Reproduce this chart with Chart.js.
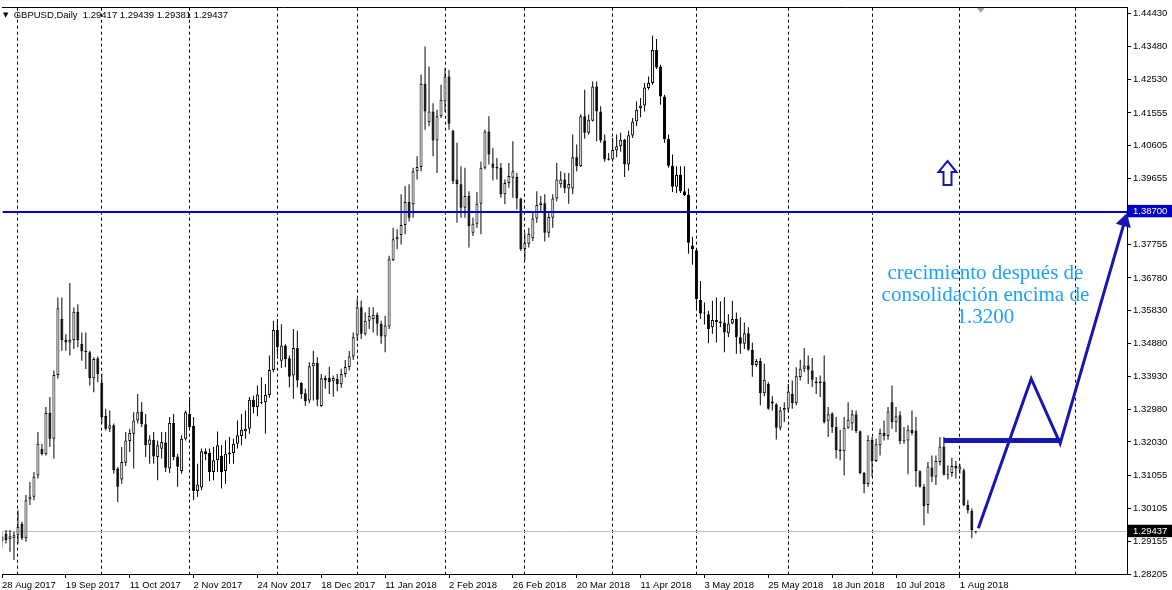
<!DOCTYPE html>
<html>
<head>
<meta charset="utf-8">
<script src="https://cdn.jsdelivr.net/npm/chart.js@4.4.1/dist/chart.umd.min.js"></script>
<style>
  html, body { margin: 0; padding: 0; background: #fff; }
  #wrap { position: relative; width: 1172px; height: 590px; }
  #head { position: absolute; left: 3px; top: 9px; font: 9.5px "Liberation Sans", Arial, sans-serif; color: #000; white-space: pre; }
  #head .tri { font: 7px "DejaVu Sans", sans-serif; vertical-align: 1px; }
</style>
</head>
<body>
<div id="wrap">
  <canvas id="chart" width="1172" height="590"></canvas>
  <div id="head"><span class="tri">▼</span>  GBPUSD,Daily  1.29417 1.29439 1.29381 1.29437</div>
</div>
<script>
// GBPUSD daily candles (one value per bar)
const opens = [
  1.2930,1.2938,1.2921,1.2924,1.2933,1.2965,1.2924,1.3036,1.3044,1.3106,
  1.3183,1.3167,1.3287,1.3212,1.3397,1.3559,1.3499,1.3490,1.3498,1.3580,
  1.3487,1.3467,1.3463,1.3387,1.3445,1.3374,1.3278,1.3241,1.3251,1.3126,
  1.3094,1.3143,1.3206,1.3227,1.3265,1.3291,1.3254,1.3195,1.3209,1.3159,
  1.3183,1.3201,1.3126,1.3258,1.3161,1.3119,1.3212,1.3284,1.3249,1.3061,
  1.3071,1.3176,1.3171,1.3116,1.3150,1.3164,1.3119,1.3167,1.3171,1.3198,
  1.3220,1.3234,1.3241,1.3325,1.3304,1.3318,1.3318,1.3339,1.3411,1.3527,
  1.3438,1.3482,1.3445,1.3395,1.3475,1.3374,1.3344,1.3323,1.3422,1.3432,
  1.3307,1.3388,1.3388,1.3379,1.3385,1.3370,1.3400,1.3420,1.3450,1.3511,
  1.3593,1.3516,1.3554,1.3559,1.3571,1.3545,1.3508,1.3537,1.3729,1.3790,
  1.3802,1.3831,1.3898,1.3891,1.3987,1.3999,1.4240,1.4129,1.4160,1.4076,
  1.4146,1.4189,1.4261,1.4104,1.3963,1.3949,1.3881,1.3915,1.3809,1.3835,
  1.3893,1.3997,1.4102,1.4009,1.3999,1.3997,1.3920,1.3953,1.3968,1.3970,
  1.3908,1.3761,1.3777,1.3793,1.3850,1.3889,1.3894,1.3809,1.3852,1.3908,
  1.3949,1.3963,1.3937,1.3937,1.4027,1.4001,1.4146,1.4098,1.4133,1.4232,
  1.4160,1.4076,1.4020,1.4021,1.4047,1.4059,1.4078,1.4006,1.4090,1.4131,
  1.4170,1.4177,1.4228,1.4242,1.4338,1.4290,1.4203,1.4080,1.4003,1.3942,
  1.3977,1.3929,1.3918,1.3772,1.3758,1.3614,1.3578,1.3573,1.3535,1.3556,
  1.3552,1.3549,1.3518,1.3546,1.3559,1.3506,1.3487,1.3518,1.3469,1.3426,
  1.3437,1.3344,1.3371,1.3320,1.3312,1.3244,1.3294,1.3299,1.3342,1.3315,
  1.3391,1.3415,1.3424,1.3410,1.3378,1.3378,1.3378,1.3264,1.3285,1.3246,
  1.3181,1.3176,1.3244,1.3256,1.3283,1.3234,1.3113,1.3081,1.3209,1.3148,
  1.3193,1.3229,1.3220,1.3318,1.3260,1.3280,1.3207,1.3207,1.3238,1.3236,
  1.3118,1.3073,1.3020,1.3129,1.3102,1.3145,1.3190,1.3111,1.3113,1.3133,
  1.3123,1.3121,1.3020,1.3004,1.29417
];
const highs = [
  1.2945,1.2948,1.2948,1.2943,1.3005,1.2972,1.3049,1.3087,1.3116,1.3232,
  1.3198,1.3304,1.3333,1.3410,1.3621,1.3621,1.3515,1.3663,1.3592,1.3602,
  1.3520,1.3520,1.3467,1.3448,1.3450,1.3400,1.3299,1.3294,1.3256,1.3130,
  1.3188,1.3232,1.3241,1.3289,1.3342,1.3318,1.3284,1.3222,1.3232,1.3207,
  1.3232,1.3232,1.3275,1.3284,1.3169,1.3222,1.3294,1.3333,1.3275,1.3140,
  1.3184,1.3184,1.3184,1.3188,1.3233,1.3193,1.3207,1.3217,1.3212,1.3265,
  1.3284,1.3294,1.3333,1.3337,1.3366,1.3390,1.3371,1.3453,1.3554,1.3559,
  1.3544,1.3486,1.3453,1.3530,1.3525,1.3376,1.3357,1.3434,1.3467,1.3448,
  1.3400,1.3395,1.3421,1.3395,1.3400,1.3415,1.3440,1.3466,1.3520,1.3617,
  1.3612,1.3578,1.3593,1.3593,1.3578,1.3554,1.3568,1.3742,1.3823,1.3819,
  1.3920,1.3944,1.3949,1.3997,1.4030,1.4266,1.4348,1.4290,1.4184,1.4165,
  1.4237,1.4285,1.4280,1.4107,1.4069,1.4001,1.3997,1.3929,1.3852,1.3927,
  1.4014,1.4107,1.4146,1.4054,1.4025,1.4011,1.3963,1.4011,1.4074,1.3982,
  1.3910,1.3809,1.3823,1.3867,1.3929,1.3915,1.3920,1.3867,1.3920,1.4011,
  1.3987,1.3982,1.3982,1.4093,1.4064,1.4152,1.4223,1.4151,1.4247,1.4247,
  1.4175,1.4093,1.4040,1.4083,1.4093,1.4098,1.4081,1.4104,1.4141,1.4189,
  1.4199,1.4242,1.4261,1.4380,1.4370,1.4295,1.4208,1.4093,1.4035,1.4001,
  1.4001,1.4001,1.3937,1.3797,1.3761,1.3669,1.3607,1.3583,1.3612,1.3621,
  1.3610,1.3623,1.3573,1.3612,1.3578,1.3564,1.3549,1.3535,1.3491,1.3443,
  1.3446,1.3429,1.3376,1.3335,1.3315,1.3304,1.3318,1.3371,1.3381,1.3419,
  1.3441,1.3475,1.3453,1.3446,1.3391,1.3395,1.3453,1.3304,1.3289,1.3275,
  1.3238,1.3275,1.3318,1.3296,1.3294,1.3236,1.3116,1.3222,1.3217,1.3212,
  1.3241,1.3265,1.3304,1.3366,1.3304,1.3292,1.3246,1.3251,1.3294,1.3275,
  1.3121,1.3081,1.3145,1.3164,1.3164,1.3217,1.3217,1.3135,1.3157,1.3148,
  1.3140,1.3126,1.3034,1.3010,1.29439
];
const lows = [
  1.2895,1.2909,1.2885,1.2861,1.2909,1.2919,1.2914,1.3020,1.3034,1.3097,
  1.3164,1.3164,1.3188,1.3155,1.3386,1.3467,1.3467,1.3453,1.3472,1.3477,
  1.3438,1.3414,1.3366,1.3347,1.3376,1.3256,1.3236,1.3232,1.3111,1.3029,
  1.3082,1.3133,1.3174,1.3126,1.3256,1.3246,1.3159,1.3140,1.3140,1.3092,
  1.3155,1.3116,1.3113,1.3150,1.3073,1.3111,1.3207,1.3241,1.3034,1.3044,
  1.3063,1.3150,1.3090,1.3092,1.3116,1.3068,1.3082,1.3140,1.3140,1.3184,
  1.3193,1.3212,1.3227,1.3286,1.3277,1.3313,1.3227,1.3331,1.3405,1.3453,
  1.3417,1.3419,1.3361,1.3328,1.3361,1.3328,1.3307,1.3315,1.3323,1.3306,
  1.3304,1.3357,1.3342,1.3334,1.3350,1.3360,1.3390,1.3410,1.3440,1.3496,
  1.3501,1.3511,1.3530,1.3520,1.3511,1.3487,1.3463,1.3530,1.3727,1.3761,
  1.3775,1.3804,1.3841,1.3852,1.3963,1.3987,1.4107,1.4117,1.4030,1.3982,
  1.4141,1.4160,1.4107,1.3950,1.3838,1.3852,1.3852,1.3766,1.3799,1.3823,
  1.3804,1.3992,1.4006,1.3960,1.3963,1.3910,1.3891,1.3939,1.3910,1.3876,
  1.3756,1.3729,1.3766,1.3785,1.3838,1.3867,1.3783,1.3795,1.3823,1.3900,
  1.3939,1.3924,1.3893,1.3920,1.3987,1.3999,1.4081,1.4093,1.4131,1.4074,
  1.4069,1.4014,1.4018,1.4014,1.4027,1.4043,1.3970,1.3989,1.4083,1.4117,
  1.4143,1.4160,1.4223,1.4237,1.4283,1.4179,1.4069,1.3997,1.3927,1.3924,
  1.3924,1.3915,1.3748,1.3716,1.3588,1.3559,1.3543,1.3489,1.3516,1.3491,
  1.3535,1.3463,1.3506,1.3544,1.3458,1.3458,1.3472,1.3467,1.3392,1.3421,
  1.3309,1.3335,1.3296,1.3294,1.3210,1.3237,1.3261,1.3289,1.3299,1.3309,
  1.3381,1.3405,1.3371,1.3362,1.3342,1.3333,1.3256,1.3217,1.3229,1.3155,
  1.3150,1.3106,1.3241,1.3236,1.3229,1.3109,1.3054,1.3073,1.3102,1.3145,
  1.3164,1.3207,1.3209,1.3241,1.3231,1.3196,1.3198,1.3109,1.3222,1.3073,
  1.3071,1.2962,1.2996,1.3087,1.3078,1.3135,1.3106,1.3094,1.3102,1.3097,
  1.3111,1.3017,1.2996,1.2924,1.29381
];
const closes = [
  1.2915,1.2919,1.2930,1.2933,1.2957,1.2924,1.3034,1.3044,1.3102,1.3198,
  1.3167,1.3287,1.3212,1.3397,1.3590,1.3498,1.3491,1.3498,1.3580,1.3498,
  1.3465,1.3463,1.3387,1.3443,1.3400,1.3275,1.3241,1.3251,1.3121,1.3073,
  1.3145,1.3207,1.3229,1.3265,1.3289,1.3254,1.3193,1.3210,1.3161,1.3193,
  1.3203,1.3128,1.3258,1.3159,1.3131,1.3212,1.3289,1.3246,1.3061,1.3080,
  1.3176,1.3167,1.3116,1.3150,1.3193,1.3116,1.3169,1.3172,1.3198,1.3222,
  1.3238,1.3241,1.3325,1.3304,1.3340,1.3315,1.3339,1.3411,1.3527,1.3477,
  1.3482,1.3443,1.3392,1.3475,1.3381,1.3342,1.3321,1.3422,1.3432,1.3325,
  1.3387,1.3381,1.3376,1.3388,1.3370,1.3400,1.3420,1.3450,1.3506,1.3593,
  1.3516,1.3554,1.3568,1.3571,1.3545,1.3508,1.3540,1.3732,1.3790,1.3797,
  1.3831,1.3898,1.3852,1.3987,1.3999,1.4240,1.4160,1.4160,1.4076,1.4146,
  1.4194,1.4261,1.4124,1.3958,1.3950,1.3881,1.3915,1.3828,1.3835,1.3893,
  1.3997,1.4102,1.4035,1.3997,1.3995,1.3920,1.3953,1.3973,1.3987,1.3908,
  1.3761,1.3780,1.3806,1.3850,1.3889,1.3896,1.3809,1.3854,1.3908,1.3963,
  1.3963,1.3937,1.3950,1.4027,1.4001,1.4146,1.4098,1.4136,1.4232,1.4160,
  1.4076,1.4021,1.4024,1.4048,1.4059,1.4078,1.4006,1.4091,1.4131,1.4165,
  1.4177,1.4229,1.4242,1.4338,1.4287,1.4203,1.4080,1.4003,1.3942,1.3977,
  1.3929,1.3918,1.3780,1.3761,1.3617,1.3575,1.3575,1.3530,1.3556,1.3550,
  1.3547,1.3520,1.3546,1.3559,1.3506,1.3487,1.3518,1.3470,1.3426,1.3437,
  1.3344,1.3383,1.3299,1.3314,1.3244,1.3294,1.3301,1.3349,1.3315,1.3393,
  1.3415,1.3424,1.3412,1.3383,1.3373,1.3373,1.3261,1.3283,1.3246,1.3179,
  1.3176,1.3244,1.3267,1.3283,1.3234,1.3113,1.3081,1.3209,1.3148,1.3196,
  1.3229,1.3220,1.3291,1.3260,1.3277,1.3205,1.3205,1.3238,1.3229,1.3119,
  1.3073,1.3017,1.3132,1.3102,1.3148,1.3190,1.3108,1.3108,1.3133,1.3126,
  1.3132,1.3020,1.3006,1.2948,1.29437
];

// time axis: bar numbers of the date labels and of the month separators
const dateTicks = [0, 16, 32, 48, 64, 80, 96, 112, 128, 144, 160, 176, 192, 208, 224, 240];
const dateLabels = ['28 Aug 2017', '19 Sep 2017', '11 Oct 2017', '2 Nov 2017', '24 Nov 2017', '18 Dec 2017',
  '11 Jan 2018', '2 Feb 2018', '26 Feb 2018', '20 Mar 2018', '11 Apr 2018', '3 May 2018',
  '25 May 2018', '18 Jun 2018', '10 Jul 2018', '1 Aug 2018'];
const monthStarts = [4, 25, 47, 69, 89, 111, 131, 153, 174, 197, 218, 240, 269];

// price axis
const priceTicks = [1.44430, 1.43480, 1.42530, 1.41555, 1.40605, 1.39655, 1.37755, 1.36780,
  1.35830, 1.34880, 1.33930, 1.32980, 1.32030, 1.31055, 1.30105, 1.29155, 1.28205];
const resistance = 1.38700;
const bid = 1.29437;

// drawn objects (bar number / price)
const pathBars = [244.625, 257.875, 265.125, 281.25];
const pathPrices = [1.2953, 1.3386, 1.3199, 1.3841];
const baseBars = [236, 265.6];
const baseLevel = 1.3207;
const arrowAt = { x: 236.9, y: 1.3981 };
const noteAt = { x: 246.4, y: 1.3692 };
const noteLines = ['crecimiento después de', 'consolidación encima de', '1.3200'];
const shiftAt = 245.25;

const X_MIN = 0.125, X_MAX = 281.875;
const Y_MIN = 1.28205, Y_MAX = 1.44604;
const BLUE = '#1616b0';
const LEVEL_BLUE = '#0000c8';
const NOTE_BLUE = '#1ea0ff';
const AXIS_FONT = { family: '"Liberation Sans", Arial, sans-serif', size: 9.5 };

const idx = opens.map((_, i) => i);
const wicks = idx.map(i => ({ x: i, y: [lows[i], highs[i]] }));
const bodies = idx.map(i => ({ x: i, y: [opens[i], closes[i]] }));
const bodyFill = idx.map(i => closes[i] >= opens[i] ? '#ffffff' : '#000000');

function isMarked(ctx) {
  const v = ctx.tick && ctx.tick.value;
  return v === resistance || v === bid;
}

const drawings = {
  id: 'drawings',
  beforeDatasetsDraw(chart) {
    const { ctx, chartArea: a, scales: { y } } = chart;
    const py = Math.round(y.getPixelForValue(bid)) + 0.5;
    ctx.save();
    ctx.strokeStyle = '#c0c0c0';
    ctx.lineWidth = 1;
    ctx.beginPath(); ctx.moveTo(a.left, py); ctx.lineTo(a.right, py); ctx.stroke();
    ctx.restore();
  },
  afterDatasetsDraw(chart) {
    const { ctx, chartArea: a, scales: { x, y } } = chart;
    ctx.save();
    ctx.beginPath(); ctx.rect(a.left, a.top, a.right - a.left, a.bottom - a.top); ctx.clip();

    // horizontal level
    const ry = Math.round(y.getPixelForValue(resistance));
    ctx.strokeStyle = LEVEL_BLUE; ctx.lineWidth = 2;
    ctx.beginPath(); ctx.moveTo(a.left, ry); ctx.lineTo(a.right, ry); ctx.stroke();

    // outlined up arrow
    const ax = Math.round(x.getPixelForValue(arrowAt.x)) + 0.5;
    const ay = Math.round(y.getPixelForValue(arrowAt.y));
    ctx.strokeStyle = BLUE; ctx.lineWidth = 2;
    ctx.beginPath();
    ctx.moveTo(ax, ay - 12);
    ctx.lineTo(ax + 9, ay - 1);
    ctx.lineTo(ax + 4, ay - 1);
    ctx.lineTo(ax + 4, ay + 12);
    ctx.lineTo(ax - 4, ay + 12);
    ctx.lineTo(ax - 4, ay - 1);
    ctx.lineTo(ax - 9, ay - 1);
    ctx.closePath();
    ctx.stroke();

    // chart shift marker
    const sx = x.getPixelForValue(shiftAt);
    ctx.fillStyle = '#a0a0a0';
    ctx.beginPath(); ctx.moveTo(sx - 4, a.top); ctx.lineTo(sx + 4, a.top); ctx.lineTo(sx, a.top + 5); ctx.closePath(); ctx.fill();

    // comment text
    const nx = x.getPixelForValue(noteAt.x), ny = y.getPixelForValue(noteAt.y);
    ctx.fillStyle = NOTE_BLUE;
    ctx.font = '21px "Liberation Serif", "Times New Roman", serif';
    ctx.textAlign = 'center';
    ctx.textBaseline = 'middle';
    noteLines.forEach((t, k) => ctx.fillText(t, nx, ny + k * 22));
    ctx.restore();
  }
};

new Chart(document.getElementById('chart'), {
  type: 'bar',
  data: {
    datasets: [
      { type: 'line', data: pathBars.map((b, i) => ({ x: b, y: pathPrices[i] })), xAxisID: 'x', yAxisID: 'y',
        borderColor: BLUE, borderWidth: 3, tension: 0, clip: false, order: 0,
        pointRadius: [0, 0, 0, 9], pointStyle: 'triangle', pointRotation: 16,
        pointBackgroundColor: BLUE, pointBorderWidth: 0 },
      { type: 'line', data: baseBars.map(b => ({ x: b, y: baseLevel })), xAxisID: 'x', yAxisID: 'y',
        borderColor: BLUE, borderWidth: 5, pointRadius: 0, order: 0 },
      { label: 'body', data: bodies, xAxisID: 'x', yAxisID: 'y', backgroundColor: bodyFill, borderColor: '#000',
        borderWidth: 1, borderSkipped: false, barThickness: 3, minBarLength: 1, grouped: false,
        inflateAmount: 0, order: 1 },
      { label: 'wick', data: wicks, xAxisID: 'x', yAxisID: 'y', backgroundColor: '#000', borderWidth: 0,
        barThickness: 1, grouped: false, inflateAmount: 0, order: 2 }
    ]
  },
  options: {
    responsive: false,
    animation: false,
    events: [],
    layout: { autoPadding: false, padding: { top: 6, left: 0, right: 0, bottom: 0 } },
    plugins: { legend: { display: false }, tooltip: { enabled: false } },
    scales: {
      x: {
        type: 'linear', position: 'bottom', min: X_MIN, max: X_MAX, bounds: 'data', offset: false,
        afterBuildTicks: s => { s.ticks = dateTicks.map(v => ({ value: v })); },
        afterFit: s => { s.height = 16; },
        ticks: { autoSkip: false, maxRotation: 0, align: 'start', padding: 2, color: '#000', font: AXIS_FONT,
          callback: (v, i) => dateLabels[i] },
        grid: { offset: false, drawOnChartArea: false, drawTicks: true, tickLength: 4, color: '#000' },
        border: { color: '#000' }
      },
      months: {
        type: 'linear', position: 'bottom', min: X_MIN, max: X_MAX, bounds: 'data', offset: false,
        afterBuildTicks: s => { s.ticks = monthStarts.map(v => ({ value: v })); },
        afterFit: s => { s.height = 0; },
        ticks: { display: false },
        grid: { offset: false, drawTicks: false, color: '#000', lineWidth: 1 },
        border: { display: false, dash: [3, 3] }
      },
      frame: {
        type: 'linear', position: 'top', min: X_MIN, max: X_MAX, offset: false,
        afterFit: s => { s.height = 0; },
        ticks: { display: false },
        grid: { display: false },
        border: { color: '#000' }
      },
      y: {
        type: 'linear', position: 'right', min: Y_MIN, max: Y_MAX, bounds: 'data', beginAtZero: false,
        afterBuildTicks: s => { s.ticks = priceTicks.concat([resistance, bid]).map(v => ({ value: v })); },
        afterFit: s => { s.width = 45; },
        ticks: {
          padding: 2, font: AXIS_FONT, autoSkip: false,
          callback: v => v.toFixed(5),
          color: c => isMarked(c) ? '#fff' : '#000',
          showLabelBackdrop: c => isMarked(c),
          backdropColor: c => (c.tick && c.tick.value === resistance) ? LEVEL_BLUE : '#000',
          backdropPadding: { top: 1, bottom: 0, left: 5, right: 6 }
        },
        grid: { drawOnChartArea: false, drawTicks: true, tickLength: 4, color: '#000' },
        border: { color: '#000' }
      }
    }
  },
  plugins: [drawings]
});
</script>
</body>
</html>
